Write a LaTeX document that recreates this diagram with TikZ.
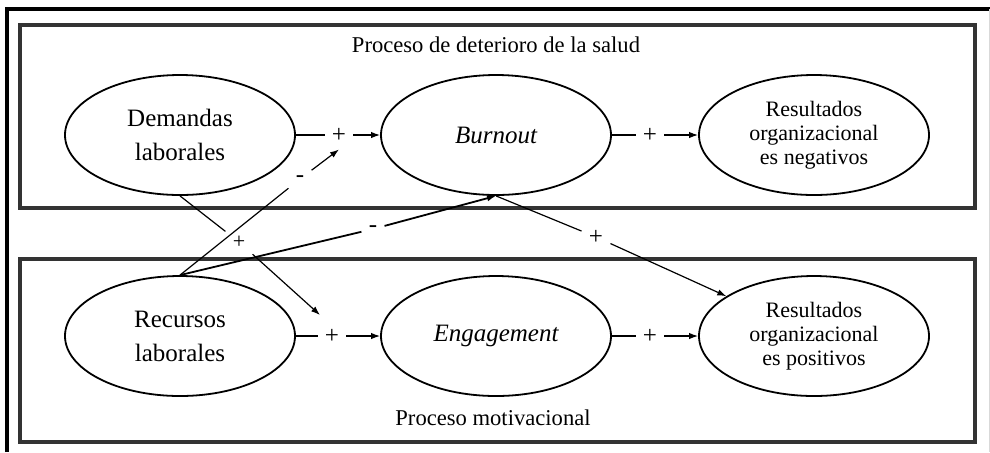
\documentclass[tikz,border=0pt]{standalone}
\usepackage{fontspec}
\setmainfont{Liberation Serif}
\usetikzlibrary{shapes.geometric,arrows.meta}
\begin{document}
\begin{tikzpicture}[x=0.5pt,y=-0.5pt,
  oval/.style={draw, ellipse, line width=0.9pt, minimum width=115pt, minimum height=60pt, inner sep=0pt, align=center, font=\fontsize{12.5}{17}\selectfont},
  resoval/.style={oval, font=\fontsize{11}{12}\selectfont},
  sign/.style={inner sep=3.5pt, font=\fontsize{12.5}{14}\selectfont},
  smallsign/.style={inner sep=3.5pt, font=\fontsize{11}{13}\selectfont},
  conn/.style={line width=0.6pt},
  arr/.style={line width=0.6pt, -{Latex[length=4.5pt,width=3.2pt]}},
  boxline/.style={line width=1.8pt, draw=black!80},
  caption/.style={font=\fontsize{11.3}{13}\selectfont}
]
\useasboundingbox (0,0) rectangle (990,452);
% outer frame
\draw[line width=2pt] (7,452) -- (7,9) -- (990,9);
\draw[black!15, line width=0.5pt] (989,9) -- (989,452);
% process boxes
\draw[boxline] (20,25) rectangle (975,208);
\draw[boxline] (20,259) rectangle (975,442);
\node[caption] (t1) at (496,45) {Proceso de deterioro de la salud};
\node[caption] (t2) at (493,418) {Proceso motivacional};
% ellipses
\node[oval] (dem) at (180,135) {Demandas\\laborales};
\node[oval] (bur) at (496,135) {\itshape Burnout};
\node[resoval] (rneg) at (814,135) {Resultados\\organizacional\\es negativos};
\node[oval] (rec) at (180,336) {Recursos\\laborales};
\node[oval] (eng) at (496,336) {\itshape Engagement};
\node[resoval] (rpos) at (814,336) {Resultados\\organizacional\\es positivos};
% sign labels
\node[sign] (p1) at (339,135) {+};
\node[sign] (p2) at (650,135) {+};
\node[sign] (p3) at (332,336) {+};
\node[sign] (p4) at (650,336) {+};
\node[sign] (m1) at (300,179) {-};
\node[sign] (m2) at (373,229) {-};
\node[smallsign] (m3) at (239,242) {+};
\node[sign] (m4) at (596,237) {+};
\coordinate (t3) at (320,315);
% horizontal paths
\draw[conn] (dem) -- (p1);
\draw[arr] (p1) -- (bur);
\draw[conn] (bur) -- (p2);
\draw[arr] (p2) -- (rneg);
\draw[conn] (rec) -- (p3);
\draw[arr] (p3) -- (eng);
\draw[conn] (eng) -- (p4);
\draw[arr] (p4) -- (rpos);
% cross paths
\draw[conn] (dem.south) -- (m3);
\draw[arr] (m3) -- (t3);
\draw[conn] (rec.north) -- (m1);
\draw[arr] (m1) -- (p1.south);
\draw[conn, line width=0.9pt] (rec.north) -- (m2);
\draw[arr, line width=0.9pt] (m2) -- (bur.south);
\draw[conn] (bur.south) -- (m4);
\draw[arr] (m4) -- (rpos);
\end{tikzpicture}
\end{document}
